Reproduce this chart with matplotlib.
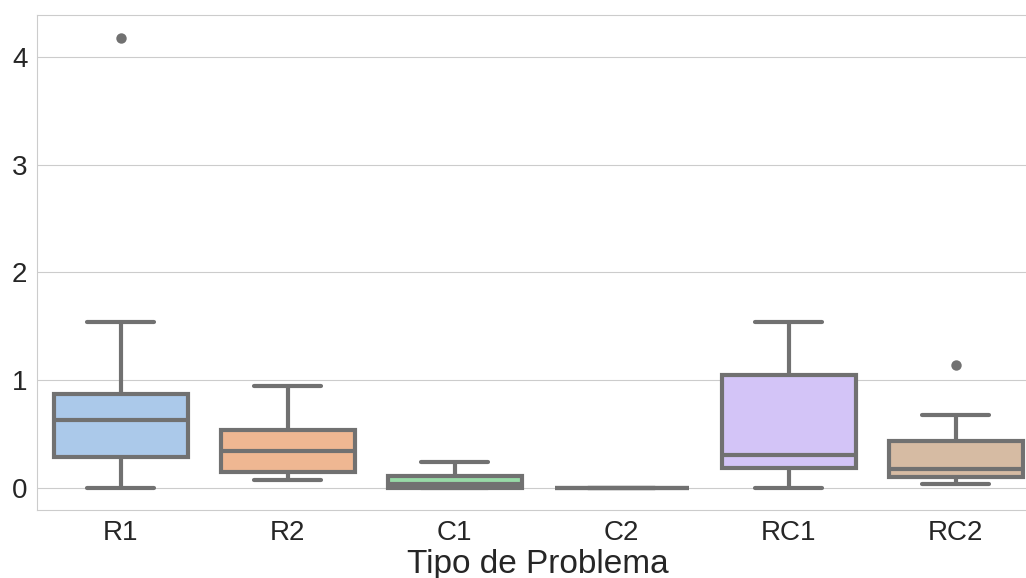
import matplotlib
matplotlib.use('Agg')
import matplotlib.pyplot as plt
import seaborn as sns

categorias = ['R1', 'R2', 'C1', 'C2', 'RC1', 'RC2']
whis_lo = [0.0, 0.074, 0.0, 0.0, 0.0, 0.034]
q1 = [0.287, 0.14, 0.0, 0.0, 0.185, 0.097]
mediana = [0.63, 0.34, 0.03, 0.0, 0.306, 0.171]
q3 = [0.87, 0.53, 0.105, 0.0, 1.046, 0.435]
whis_hi = [1.537, 0.944, 0.238, 0.0, 1.54, 0.676]
outliers = [[4.18], [], [], [], [], [1.14]]

sns.set_style('whitegrid')
plt.rcParams['font.family'] = ['Liberation Sans', 'DejaVu Sans']

stats = []
for i in range(len(categorias)):
    stats.append({'label': categorias[i], 'whislo': whis_lo[i], 'q1': q1[i],
                  'med': mediana[i], 'q3': q3[i], 'whishi': whis_hi[i],
                  'fliers': outliers[i]})

cores = sns.color_palette('pastel', 6, desat=0.75)
gris = '#717171'

fig = plt.figure(figsize=(10.26, 5.78), dpi=100)
ax = fig.add_axes([37.2 / 1026, 1 - 510 / 578, (1039.2 - 37.2) / 1026, (510 - 15) / 578])

bp = ax.bxp(stats, positions=range(6), widths=0.8, capwidths=0.4, patch_artist=True,
            boxprops=dict(edgecolor=gris, linewidth=3),
            whiskerprops=dict(color=gris, linewidth=3, solid_capstyle='round'),
            capprops=dict(color=gris, linewidth=3, solid_capstyle='round'),
            medianprops=dict(color=gris, linewidth=3),
            flierprops=dict(marker='o', markerfacecolor=gris, markeredgecolor=gris,
                            markersize=7.5, markeredgewidth=0))
for caja, c in zip(bp['boxes'], cores):
    caja.set_facecolor(c)

ax.set_xlim(-0.5, 5.5)
ax.set_ylim(-0.209, 4.39)
ax.set_yticks([0, 1, 2, 3, 4])
ax.tick_params(axis='both', labelsize=20, length=0, pad=7, colors='#262626')
ax.set_xlabel('Tipo de Problema', fontsize=24, labelpad=2, color='#262626')
ax.grid(axis='x', visible=False)
ax.set_axisbelow(True)

fig.savefig('out.png', dpi=100)
